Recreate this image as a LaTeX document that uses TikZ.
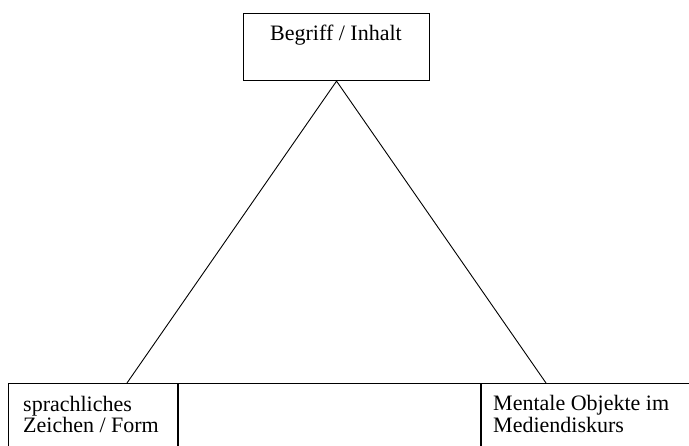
\documentclass[tikz,border=0pt]{standalone}
\usepackage{fontspec}
\setmainfont{Liberation Serif}

\begin{document}
\begin{tikzpicture}[x=1pt,y=-1pt,
  kasten/.style={draw,line width=1.1pt,inner sep=0pt,anchor=north west},
  linie/.style={line width=0.9pt},
  beschriftung/.style={inner sep=0pt,align=left,font=\fontsize{22}{21.5}\selectfont}]
\useasboundingbox (0,0) rectangle (689,446);
\clip (0,0) rectangle (689,446);
\node[kasten,minimum width=186pt,minimum height=67pt] (begriff) at (243,13) {};
\node[beschriftung,anchor=base] (begriffstext) at (336,41) {Begriff / Inhalt};
\node[kasten,minimum width=169pt,minimum height=80pt] (zeichen) at (8,383) {};
\node[kasten,minimum width=302pt,minimum height=80pt] (mitte) at (zeichen.north east) {};
\node[kasten,minimum width=230pt,minimum height=80pt] (objekte) at (mitte.north east) {};
% base = letzte Zeile
\node[beschriftung,anchor=base west] (zeichentext) at (23,433) {sprachliches\\Zeichen / Form};
\node[beschriftung,anchor=base west] (objektetext) at (493,432.5) {Mentale Objekte im\\Mediendiskurs};
\coordinate (fusslinks) at (127,383);
\coordinate (fussrechts) at (546,383);
\draw[linie] (fusslinks) -- (begriff.south) -- (fussrechts);
\end{tikzpicture}
\end{document}
